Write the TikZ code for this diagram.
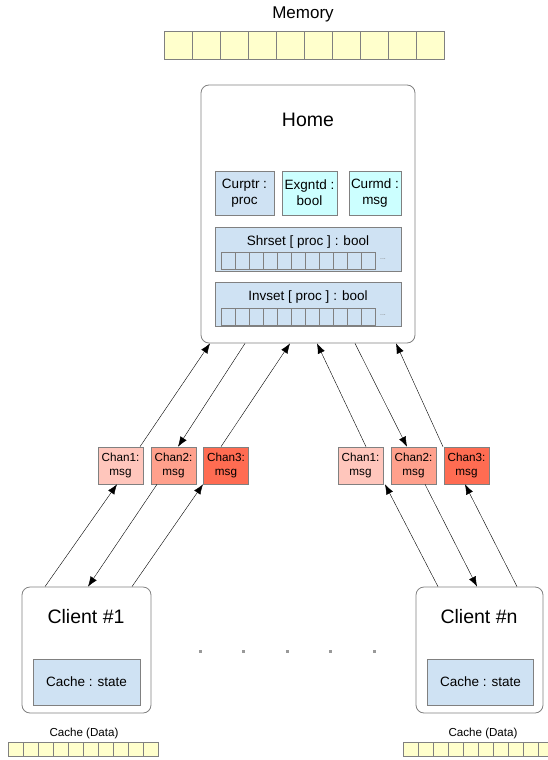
\documentclass[tikz,border=0pt]{standalone}
\usepackage{fontspec}
\setmainfont{Liberation Sans}
\usetikzlibrary{arrows.meta}
\tikzset{>={Latex[length=10pt,width=7.5pt]}}
\definecolor{memyellow}{RGB}{255,255,204}
\definecolor{fieldblue}{RGB}{207,226,243}
\definecolor{fieldcyan}{RGB}{204,255,255}
\definecolor{chanone}{RGB}{255,198,188}
\definecolor{chantwo}{RGB}{255,160,140}
\definecolor{chanthree}{RGB}{255,108,82}
\definecolor{edgegray}{RGB}{128,128,128}

\begin{document}
\begin{tikzpicture}[x=1pt, y=-1pt,
    box/.style={draw=edgegray, rounded corners=8pt, line width=0.8pt, inner sep=0pt},
    field/.style={draw=edgegray, fill=fieldblue, line width=0.6pt, inner sep=0pt, align=center,
      font=\fontsize{13.5}{16}\selectfont},
    chan/.style={draw=edgegray, line width=0.6pt, inner sep=0pt, align=center,
      minimum width=45pt, minimum height=37pt, font=\fontsize{11.7}{14}\selectfont},
    cell/.style={draw=edgegray, line width=0.6pt},
    title/.style={font=\fontsize{19.5}{22}\selectfont},
    label/.style={font=\fontsize{13.5}{16}\selectfont},
    small/.style={font=\fontsize{11.6}{13}\selectfont},
    more/.style={text=gray, font=\fontsize{7}{8}\selectfont}]
  \useasboundingbox (0,0) rectangle (548,760);

  % memory
  \node[font=\fontsize{17}{20}\selectfont] (memlabel) at (303,14) {Memory};
  \foreach \i in {0,...,9}
    \draw[cell, fill=memyellow] (164+28*\i,31.5) rectangle ++(28,27.5);

  % home
  \node[box, minimum width=214pt, minimum height=258pt] (home) at (308,214) {};
  \node[title] (homelabel) at (308,120) {Home};
  \node[field, minimum width=59pt, minimum height=44pt] (curptr) at (244.5,193) {Curptr :\\proc};
  \node[field, fill=fieldcyan, minimum width=55pt, minimum height=44pt] (exgntd) at (309.5,193) {Exgntd :\\bool};
  \node[field, fill=fieldcyan, minimum width=52pt, minimum height=44pt] (curmd) at (375,193) {Curmd :\\msg};

  \node[field, minimum width=186pt, minimum height=44pt] (shrset) at (308,249) {};
  \node[label] (shrlabel) at (308,242) {Shrset [ proc ] : bool};
  \foreach \i in {0,...,10}
    \draw[cell, fill=fieldblue] (221+14*\i,252) rectangle ++(14,17);
  \node[more] (shrmore) at (383,259) {...};

  \node[field, minimum width=186pt, minimum height=44pt] (invset) at (308,304) {};
  \node[label] (invlabel) at (308,297) {Invset [ proc ] : bool};
  \foreach \i in {0,...,10}
    \draw[cell, fill=fieldblue] (221+14*\i,308) rectangle ++(14,17);
  \node[more] (invmore) at (383,315) {...};

  % channels
  \node[chan, fill=chanone] (chanA1) at (120.5,465.5) {Chan1:\\msg};
  \node[chan, fill=chantwo] (chanA2) at (173.5,465.5) {Chan2:\\msg};
  \node[chan, fill=chanthree] (chanA3) at (226,465.5) {Chan3:\\msg};
  \node[chan, fill=chanone] (chanB1) at (360.5,465.5) {Chan1:\\msg};
  \node[chan, fill=chantwo] (chanB2) at (413.5,465.5) {Chan2:\\msg};
  \node[chan, fill=chanthree] (chanB3) at (466.5,465.5) {Chan3:\\msg};

  % clients
  \node[box, minimum width=129pt, minimum height=126pt] (clientA) at (86.5,650) {};
  \node[title] (clientAlabel) at (86,617) {Client \#1};
  \node[field, minimum width=107pt, minimum height=46pt] (cacheA) at (86.5,682) {Cache : state};
  \node[box, minimum width=127pt, minimum height=126pt] (clientB) at (479.5,650) {};
  \node[title] (clientBlabel) at (479,617) {Client \#n};
  \node[field, minimum width=106pt, minimum height=46pt] (cacheB) at (480.5,682) {Cache : state};
  \foreach \x in {200,243,287,330,374}
    \fill[gray!80] (\x-1.5,649.5) rectangle ++(3,3);

  % client data
  \node[small] (dataAlabel) at (84,733) {Cache (Data)};
  \foreach \i in {0,...,9}
    \draw[cell, fill=memyellow] (8+15*\i,742) rectangle ++(15,14);
  \node[small] (dataBlabel) at (483,733) {Cache (Data)};
  \begin{scope}
    \clip (0,0) rectangle (548,760);
    \foreach \i in {0,...,9}
      \draw[cell, fill=memyellow] (403+15*\i,742) rectangle ++(15,14);
  \end{scope}

  % arrows home <-> channels
  \draw[->] ([xshift=19.5pt]chanA1.north) -- ([xshift=-98pt]home.south);
  \draw[->] ([xshift=-63pt]home.south) -- ([xshift=4.5pt]chanA2.north);
  \draw[->] ([xshift=-5pt]chanA3.north) -- ([xshift=-18pt]home.south);
  \draw[->] ([xshift=5.5pt]chanB1.north) -- ([xshift=9pt]home.south);
  \draw[->] ([xshift=47pt]home.south) -- ([xshift=-6.5pt]chanB2.north);
  \draw[->] ([xshift=-23.5pt]chanB3.north) -- ([xshift=88pt]home.south);
  % arrows clients <-> channels
  \draw[->] ([xshift=-41.5pt]clientA.north) -- ([xshift=-3.5pt]chanA1.south);
  \draw[->] ([xshift=-16.5pt]chanA2.south) -- ([xshift=1.5pt]clientA.north);
  \draw[->] ([xshift=45.5pt]clientA.north) -- ([xshift=-23pt]chanA3.south);
  \draw[->] ([xshift=-41.5pt]clientB.north) -- ([xshift=24.5pt]chanB1.south);
  \draw[->] ([xshift=11.5pt]chanB2.south) -- ([xshift=-2.5pt]clientB.north);
  \draw[->] ([xshift=37.5pt]clientB.north) -- ([xshift=-1.5pt]chanB3.south);
\end{tikzpicture}
\end{document}
